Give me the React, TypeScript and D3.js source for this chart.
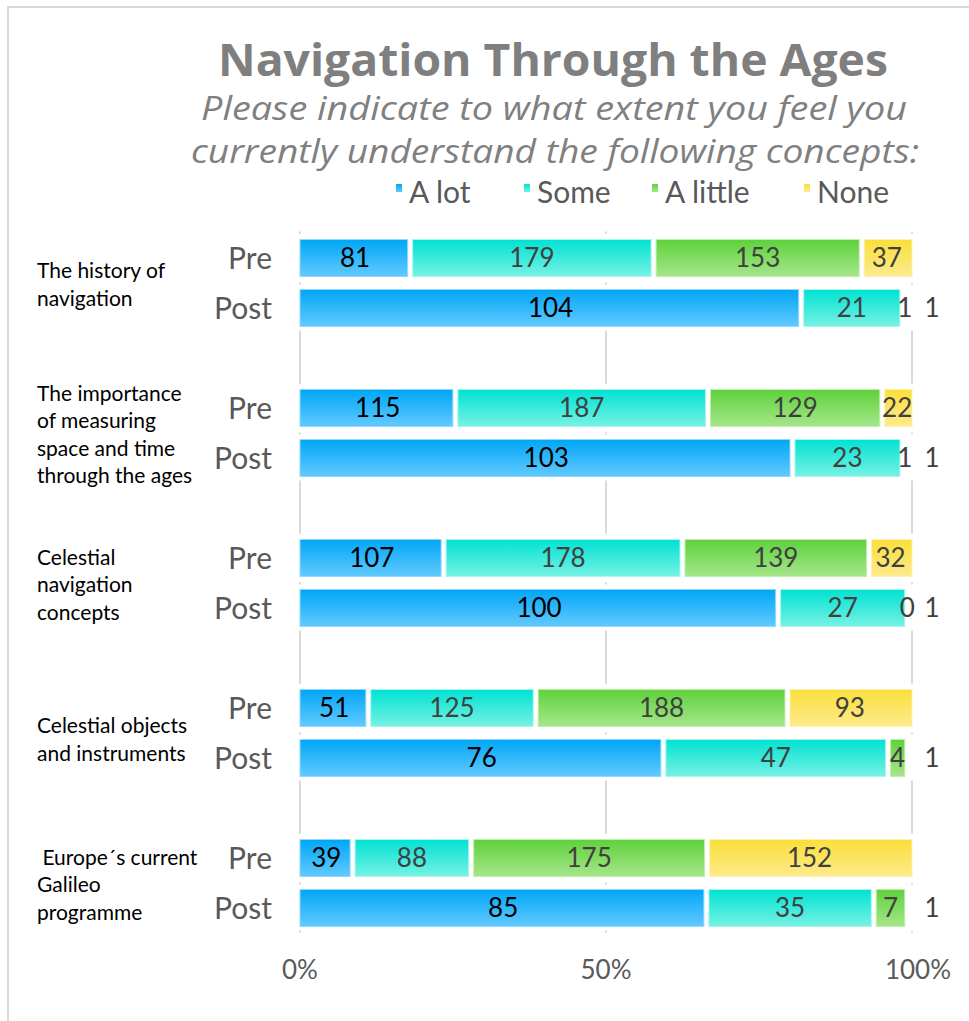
import React from "react";
import * as d3 from "d3";

const categories = [
  ["The history of", "navigation"],
  ["The importance", "of measuring", "space and time", "through the ages"],
  ["Celestial", "navigation", "concepts"],
  ["Celestial objects", "and instruments"],
  [" Europe\u00b4s current", "Galileo", "programme"],
];
const phases = ["Pre", "Post"];
const seriesNames = ["A lot", "Some", "A little", "None"];

// values per category: [Pre, Post], each with A lot / Some / A little / None
const preValues = [
  [81, 179, 153, 37],
  [115, 187, 129, 22],
  [107, 178, 139, 32],
  [51, 125, 188, 93],
  [39, 88, 175, 152],
];
const postValues = [
  [104, 21, 1, 1],
  [103, 23, 1, 1],
  [100, 27, 0, 1],
  [76, 47, 4, 1],
  [85, 35, 7, 1],
];
const xTicks = [0, 0.5, 1];

const colors = [
  { top: "#00a6f6", bottom: "#62caff", edge: "#8fd8ff", label: "#000000" },
  { top: "#00e2d2", bottom: "#76f2e4", edge: "#a8f6ee", label: "#404040" },
  { top: "#5ed23c", bottom: "#a6e68a", edge: "#c0eeaa", label: "#404040" },
  { top: "#fadf3a", bottom: "#fdea8c", edge: "#fdf0b0", label: "#404040" },
];

const W = 969;
const H = 1021;

export default function App() {
  const x = d3.scaleLinear().domain([0, 1]).range([300, 912]);
  // each category takes 3 rows: Pre, Post, blank
  const rows = d3.range(categories.length * 3);
  const y = d3.scaleBand<number>().domain(rows).range([233, 233 + rows.length * 50]).paddingInner(0.26).paddingOuter(0.13);
  const bh = y.bandwidth();

  const stack = (vals: number[]) => {
    const total = d3.sum(vals);
    let acc = 0;
    return vals.map((v, i) => {
      const s = { i, v, x0: acc / total, x1: (acc + v) / total };
      acc += v;
      return s;
    });
  };

  const labelFont = "Lato, 'Open Sans', sans-serif";

  return (
    <svg width={W} height={H} style={{ position: "absolute", left: 0, top: 0, background: "#fff" }}>
      <defs>
        {colors.map((c, i) => (
          <linearGradient key={i} id={`g${i}`} x1="0" y1="0" x2="0" y2="1">
            <stop offset="0" stopColor={c.top} />
            <stop offset="1" stopColor={c.bottom} />
          </linearGradient>
        ))}
      </defs>
      <rect x={8} y={7} width={W + 20} height={H + 20} fill="none" stroke="#d9d9d9" strokeWidth={2} />

      <text x={553} y={76} textAnchor="middle" fontFamily="'Open Sans', sans-serif" fontWeight="bold" fontSize={44}
        fill="#7f7f7f" textLength={670} lengthAdjust="spacingAndGlyphs">
        Navigation Through the Ages
      </text>
      <text x={554} y={120} textAnchor="middle" fontFamily="'Open Sans', sans-serif" fontStyle="italic" fontSize={33}
        fill="#808080" textLength={706} lengthAdjust="spacingAndGlyphs">
        Please indicate to what extent you feel you
      </text>
      <text x={555} y={163} textAnchor="middle" fontFamily="'Open Sans', sans-serif" fontStyle="italic" fontSize={33}
        fill="#808080" textLength={728} lengthAdjust="spacingAndGlyphs">
        currently understand the following concepts:
      </text>

      {seriesNames.map((name, i) => {
        const lx = [396, 524, 652, 804][i];
        return (
          <g key={name}>
            <rect x={lx} y={184} width={6} height={8} fill={`url(#g${i})`} />
            <text x={lx + 13} y={203} fontFamily={labelFont} fontSize={30} fill="#595959">
              {name}
            </text>
          </g>
        );
      })}

      {/* gridlines in the gaps */}
      {xTicks.map((t) => (
        <g key={t}>
          {categories.map((_, ci) => {
            const postBottom = (y(ci * 3 + 1) ?? 0) + bh;
            const nextPre = y(ci * 3 + 3);
            const preTop = y(ci * 3) ?? 0;
            return (
              <g key={ci}>
                <rect x={x(t) - 1} y={preTop - 8} width={2} height={2} fill="#d9d9d9" />
                <rect x={x(t) - 1} y={preTop + bh + 6} width={2} height={2} fill="#d9d9d9" />
                {nextPre !== undefined ? (
                  <line x1={x(t)} x2={x(t)} y1={postBottom + 4} y2={nextPre - 6} stroke="#d9d9d9" strokeWidth={2} />
                ) : (
                  <rect x={x(t) - 1} y={postBottom + 4} width={2} height={2} fill="#d9d9d9" />
                )}
              </g>
            );
          })}
          <text x={x(t) + (t === 1 ? 6 : 0)} y={979} textAnchor="middle" fontFamily={labelFont} fontSize={26} fill="#595959">
            {`${t * 100}%`}
          </text>
        </g>
      ))}

      {categories.map((lines, ci) => {
        const center = ((y(ci * 3) ?? 0) + (y(ci * 3 + 1) ?? 0) + bh) / 2;
        const lh = 27.5;
        const first = center + 9 - ((lines.length - 1) * lh) / 2;
        return (
          <g key={ci}>
            <text fontFamily={labelFont} fontSize={21} fill="#000">
              {lines.map((l, li) => (
                <tspan key={li} x={37} y={first + li * lh + (ci === 3 ? 5 : 0)} xmlSpace="preserve">
                  {l}
                </tspan>
              ))}
            </text>
            {[preValues[ci], postValues[ci]].map((vals, pi) => {
              const yy = y(ci * 3 + pi) ?? 0;
              return (
                <g key={pi}>
                  <text x={272} y={yy + bh / 2 + 11} textAnchor="end" fontFamily={labelFont} fontSize={30} fill="#595959">
                    {phases[pi]}
                  </text>
                  {stack(vals).map((s) => {
                    const last = s.i === vals.length - 1;
                    const x0 = x(s.x0) + (s.i === 0 ? 0 : 2.5);
                    const x1 = x(s.x1) - (last ? 0 : 2.5);
                    const w = Math.max(0, x1 - x0);
                    const segW = x(s.x1) - x(s.x0);
                    const isLastTiny = last && segW < 12;
                    const lx = isLastTiny ? x(1) + 20 : (x(s.x0) + x(s.x1)) / 2;
                    return (
                      <g key={s.i}>
                        {w > 0 && !isLastTiny && (
                          <rect x={x0} y={yy} width={w} height={bh} fill={`url(#g${s.i})`} stroke={colors[s.i].edge} strokeWidth={1} />
                        )}
                        <text x={lx} y={yy + bh / 2 + 9} textAnchor="middle" fontFamily={labelFont} fontSize={26} fill={colors[s.i].label}>
                          {s.v}
                        </text>
                      </g>
                    );
                  })}
                </g>
              );
            })}
          </g>
        );
      })}
    </svg>
  );
}
